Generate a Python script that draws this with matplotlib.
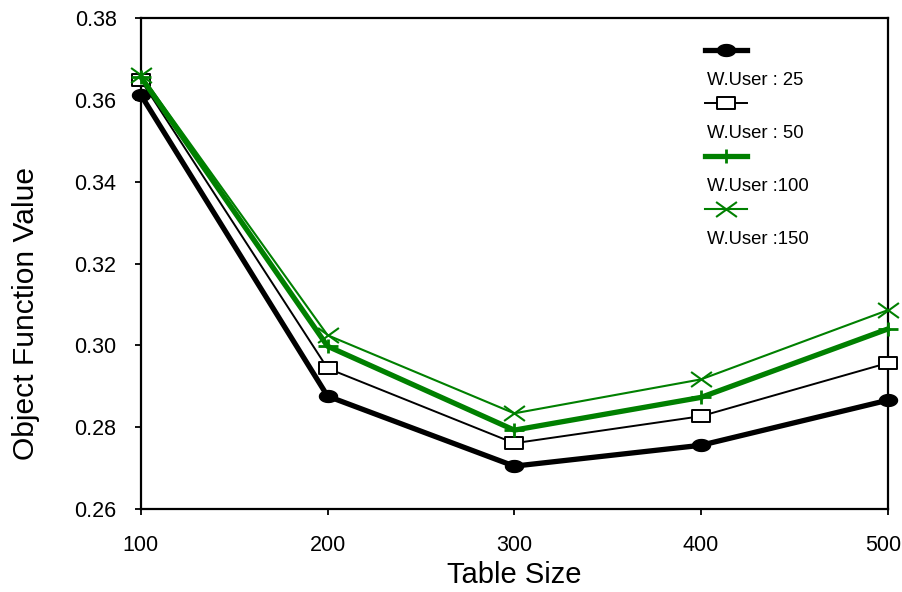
import numpy as np
import matplotlib
matplotlib.use("Agg")
import matplotlib.pyplot as plt
import matplotlib.transforms as mtransforms
from matplotlib.path import Path

plt.rcParams['font.family'] = ['Liberation Sans', 'DejaVu Sans']

table_size = [100, 200, 300, 400, 500]
user25 = [0.3612, 0.2876, 0.2705, 0.2756, 0.2866]
user50 = [0.3648, 0.2944, 0.2761, 0.2827, 0.2957]
user100 = [0.3656, 0.2998, 0.2793, 0.2873, 0.3040]
user150 = [0.3661, 0.3025, 0.2834, 0.2917, 0.3086]
labels = ['W.User : 25', 'W.User : 50', 'W.User :100', 'W.User :150']

# wide marker shapes (the original uses flattened circles / boxes)
t = np.linspace(0, 2 * np.pi, 40)
ellipse = Path(np.column_stack([np.cos(t), 0.66 * np.sin(t)]), closed=True)
box = Path([(-1, -0.64), (1, -0.64), (1, 0.64), (-1, 0.64), (-1, -0.64)], closed=True)
wide_plus = Path([(-1, 0), (1, 0), (0, -0.7), (0, 0.7)],
                 [Path.MOVETO, Path.LINETO, Path.MOVETO, Path.LINETO])
wide_x = Path([(-1, -0.72), (1, 0.72), (-1, 0.72), (1, -0.72)],
              [Path.MOVETO, Path.LINETO, Path.MOVETO, Path.LINETO])

green = '#008000'
styles = [
    dict(color='black', lw=3.8, marker=ellipse, ms=13, mfc='black', mec='black', mew=1),
    dict(color='black', lw=1.4, marker=box, ms=13.5, mfc='white', mec='black', mew=1.4),
    dict(color=green, lw=3.8, marker=wide_plus, ms=14, mec=green, mew=2),
    dict(color=green, lw=1.5, marker=wide_x, ms=15, mec=green, mew=1.5),
]

fig = plt.figure(figsize=(9.03, 5.92), dpi=100)
ax = fig.add_axes([0.156, 0.140, 0.827, 0.8296])

series = [user25, user50, user100, user150]
for i, (vals, st) in enumerate(zip(series, styles)):
    ax.plot(table_size, vals, zorder=3 + i, clip_on=False, **st)

ax.set_xlim(100, 500)
ax.set_ylim(0.26, 0.38)
ax.set_xticks(table_size)
ax.set_yticks(np.arange(0.26, 0.3801, 0.02))
ax.yaxis.set_major_formatter(plt.FormatStrFormatter('%.2f'))
ax.tick_params(direction='out', length=4.5, width=1.3, labelsize=15.5)
ax.tick_params(axis='y', pad=13)
ax.tick_params(axis='x', pad=14)
for sp in ax.spines.values():
    sp.set_linewidth(1.6)
ax.set_xlabel('Table Size', fontsize=21, labelpad=4)
ax.set_ylabel('Object Function Value', fontsize=21.6)
ax.yaxis.set_label_coords(-0.135, 0.399)

# keep the last x label inside the figure
last = ax.get_xticklabels()[-1]
last.set_transform(last.get_transform() + mtransforms.ScaledTranslation(-4 / 100, 0, fig.dpi_scale_trans))

# legend: handle above its label
for i, (lab, st) in enumerate(zip(labels, styles)):
    y = 0.935 - i * 0.108
    ax.plot([0.756, 0.811], [y, y], transform=ax.transAxes, clip_on=False, zorder=10,
            color=st['color'], lw=st['lw'])
    ax.plot([0.783], [y], transform=ax.transAxes, clip_on=False, zorder=11, ls='none',
            **{k: v for k, v in st.items() if k not in ('lw', 'color')})
    ax.text(0.758, y - 0.062, lab, transform=ax.transAxes, fontsize=13.3, va='center', ha='left')

fig.savefig('out.png', dpi=100)
